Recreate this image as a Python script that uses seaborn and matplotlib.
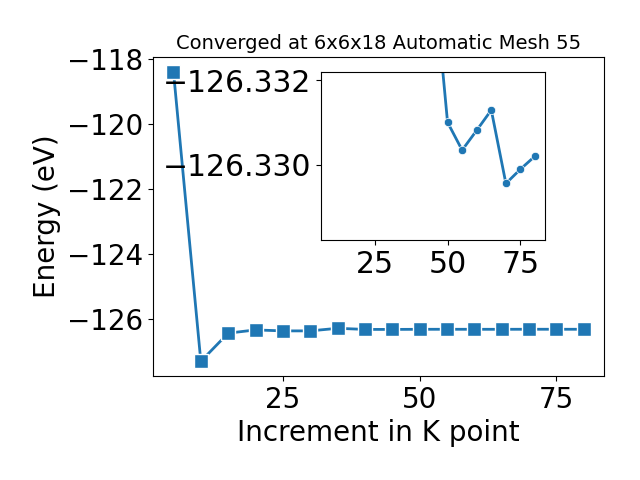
import matplotlib
matplotlib.use("Agg")
import matplotlib.pyplot as plt
import seaborn as sns
import pandas as pd

# data
kpoints = [5, 10, 15, 20, 25, 30, 35, 40, 45, 50, 55, 60, 65, 70, 75, 80]
energy = [-118.38, -127.32, -126.45, -126.35, -126.38, -126.38, -126.30,
          -126.3345, -126.3347, -126.33100, -126.33034, -126.33081,
          -126.33129, -126.32955, -126.32989, -126.33020]
title = "Converged at 6x6x18 Automatic Mesh 55"
xlabel = "Increment in K point"
ylabel = "Energy (eV)"
inset_start = 40

df = pd.DataFrame({"k": kpoints, "E": energy})
df_in = df[df["k"] >= inset_start]

fig = plt.figure(figsize=(6.4, 4.8), dpi=100)
ax = fig.add_axes([0.239, 0.217, 0.705, 0.664])
sns.lineplot(data=df, x="k", y="E", ax=ax, marker="s", markersize=10.5,
             linewidth=2, color="#1f77b4", markeredgewidth=1)
ax.set_title(title, fontsize=14)
ax.set_xlabel(xlabel, fontsize=20)
ax.set_ylabel(ylabel, fontsize=20)
ax.tick_params(labelsize=20)
ax.set_xticks([25, 50, 75])
ax.set_yticks([-118, -120, -122, -124, -126])

axin = fig.add_axes([0.501, 0.499, 0.351, 0.35])
sns.lineplot(data=df_in, x="k", y="E", ax=axin, marker="o", markersize=6,
             linewidth=2, color="#1f77b4", markeredgewidth=0.5)
axin.set_xlim(6.5, 83.5)
axin.set_ylim(-126.3282, -126.33218)
axin.set_xticks([25, 50, 75])
axin.set_yticks([-126.332, -126.330])
axin.ticklabel_format(axis="y", useOffset=False)
axin.tick_params(labelsize=21.5)
axin.set_xlabel("")
axin.set_ylabel("")

fig.savefig("out.png", dpi=100)
